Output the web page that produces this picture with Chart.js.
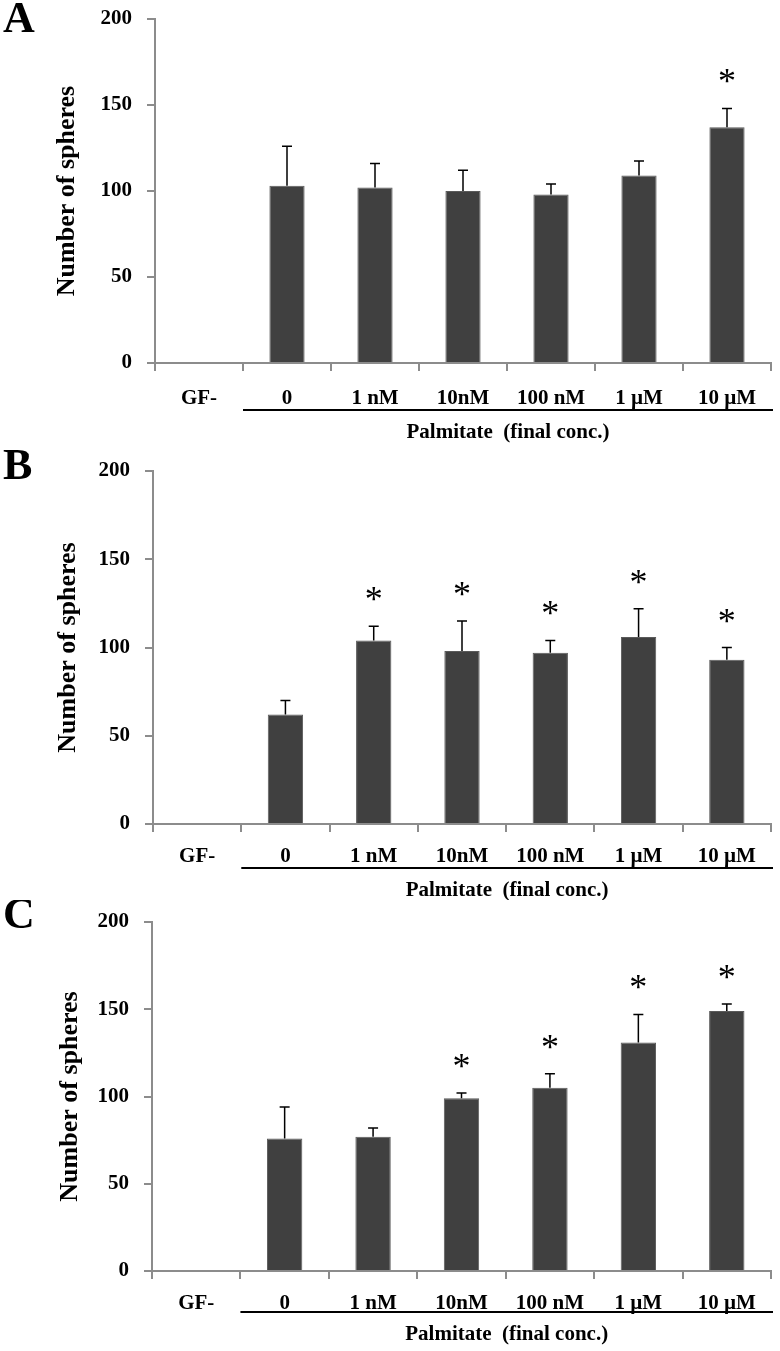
<!DOCTYPE html>
<html>
<head>
<meta charset="utf-8">
<script src="https://cdn.jsdelivr.net/npm/chart.js@4.4.0/dist/chart.umd.min.js"></script>
<style>
  body { margin: 0; background: #fff; }
  .panel { position: absolute; left: 0; width: 780px; }
</style>
</head>
<body>
<div class="panel" style="top:0;height:450px"><canvas id="chartA"></canvas></div>
<div class="panel" style="top:450px;height:450px"><canvas id="chartB"></canvas></div>
<div class="panel" style="top:900px;height:451px"><canvas id="chartC"></canvas></div>
<script>
const categories = ['GF-', '0', '1 nM', '10nM', '100 nM', '1 µM', '10 µM'];
const yTicks = [0, 50, 100, 150, 200];

// panel A
const meansA = [null, 103, 102, 100, 98, 109, 137];
const errA = [null, 23, 14, 12, 6, 8.5, 11];
const starsA = [false, false, false, false, false, false, true];
// panel B
const meansB = [null, 62, 104, 98, 97, 106, 93];
const errB = [null, 8, 8, 17, 7, 16, 7];
const starsB = [false, false, true, true, true, true, true];
// panel C
const meansC = [null, 76, 77, 99, 105, 131, 149];
const errC = [null, 18, 5, 3, 8, 16, 4];
const starsC = [false, false, false, true, true, true, true];

const serif = "'Liberation Serif', 'Times New Roman', serif";
const axisGray = '#8c8c8c';

const decor = {
    id: 'decor',
    afterDatasetsDraw(chart, args, o) {
        const ctx = chart.ctx;
        const x = chart.scales.x, y = chart.scales.y;
        const area = chart.chartArea;
        const bars = chart.getDatasetMeta(0).data;
        ctx.save();
        // error bars (upper only) and stars
        o.means.forEach((m, i) => {
            if (m == null) return;
            const bx = bars[i].x;
            const y0 = y.getPixelForValue(m);
            const y1 = y.getPixelForValue(m + o.err[i]);
            ctx.strokeStyle = '#000';
            ctx.lineWidth = 1.5;
            ctx.beginPath();
            ctx.moveTo(bx, y0);
            ctx.lineTo(bx, y1);
            ctx.moveTo(bx - 5, y1);
            ctx.lineTo(bx + 5, y1);
            ctx.stroke();
            if (o.stars[i]) {
                ctx.fillStyle = '#000';
                ctx.font = '36px ' + serif;
                ctx.textAlign = 'center';
                ctx.textBaseline = 'alphabetic';
                ctx.fillText('*', bx, y1 - 33 + 18);
            }
        });
        // panel letter
        ctx.fillStyle = '#000';
        ctx.font = 'bold 44px ' + serif;
        ctx.textAlign = 'left';
        ctx.textBaseline = 'middle';
        ctx.fillText(o.letter, 3, o.letterY);
        // y title
        ctx.save();
        ctx.translate(o.titleX, (area.top + area.bottom) / 2);
        ctx.rotate(-Math.PI / 2);
        ctx.font = 'bold 26px ' + serif;
        ctx.textAlign = 'center';
        ctx.textBaseline = 'middle';
        ctx.fillText('Number of spheres', 0, 0);
        ctx.restore();
        // palmitate underline + label
        const x0 = (x.getPixelForValue(0) + x.getPixelForValue(1)) / 2;
        const x1 = area.right + 2;
        ctx.strokeStyle = '#000';
        ctx.lineWidth = 2;
        ctx.beginPath();
        ctx.moveTo(x0, area.bottom + o.lineOff);
        ctx.lineTo(x1, area.bottom + o.lineOff);
        ctx.stroke();
        ctx.font = 'bold 21px ' + serif;
        ctx.textAlign = 'center';
        ctx.textBaseline = 'middle';
        ctx.fillText('Palmitate  (final conc.)', (x0 + x1) / 2, area.bottom + o.lineOff + 23);
        ctx.restore();
    }
};

function makePanel(id, means, err, stars, cfg) {
    new Chart(document.getElementById(id), {
        type: 'bar',
        data: {
            labels: categories,
            datasets: [{
                data: means,
                backgroundColor: '#404040',
                borderColor: '#5a5a5a',
                borderWidth: 1,
                barPercentage: 0.4,
                categoryPercentage: 1
            }]
        },
        options: {
            responsive: true,
            maintainAspectRatio: false,
            animation: false,
            layout: { padding: { top: cfg.top, right: 9, left: 0, bottom: 0 } },
            plugins: {
                legend: { display: false },
                tooltip: { enabled: false },
                decor: { means: means, err: err, stars: stars, letter: cfg.letter, letterY: cfg.letterY, titleX: cfg.titleX, lineOff: cfg.lineOff }
            },
            scales: {
                y: {
                    min: 0,
                    max: 200,
                    afterBuildTicks: s => { s.ticks = yTicks.map(v => ({ value: v })); },
                    afterFit: s => { s.width = cfg.axisX; s.paddingTop = 0; s.paddingBottom = 0; },
                    border: { color: axisGray, width: 2 },
                    grid: { drawOnChartArea: false, color: axisGray, tickLength: 8, lineWidth: 2 },
                    ticks: { color: '#000', padding: 15, font: { family: serif, size: 21, weight: 'bold' } }
                },
                x: {
                    afterFit: s => { s.height = cfg.xHeight; s.paddingLeft = 0; s.paddingRight = 0; },
                    border: { color: axisGray, width: 2 },
                    grid: { drawOnChartArea: false, color: axisGray, tickLength: 8, lineWidth: 2 },
                    ticks: { color: '#000', padding: cfg.xPad, maxRotation: 0, autoSkip: false, font: { family: serif, size: 21, weight: 'bold' } }
                }
            }
        },
        plugins: [decor]
    });
}

makePanel('chartA', meansA, errA, starsA, { letter: 'A', letterY: 21, titleX: 67, top: 19, axisX: 155, xHeight: 87, xPad: 15, lineOff: 47 });
makePanel('chartB', meansB, errB, starsB, { letter: 'B', letterY: 18, titleX: 68, top: 21, axisX: 153, xHeight: 76, xPad: 12, lineOff: 44 });
makePanel('chartC', meansC, errC, starsC, { letter: 'C', letterY: 17, titleX: 70, top: 22, axisX: 152, xHeight: 80, xPad: 12, lineOff: 41 });
</script>
</body>
</html>
